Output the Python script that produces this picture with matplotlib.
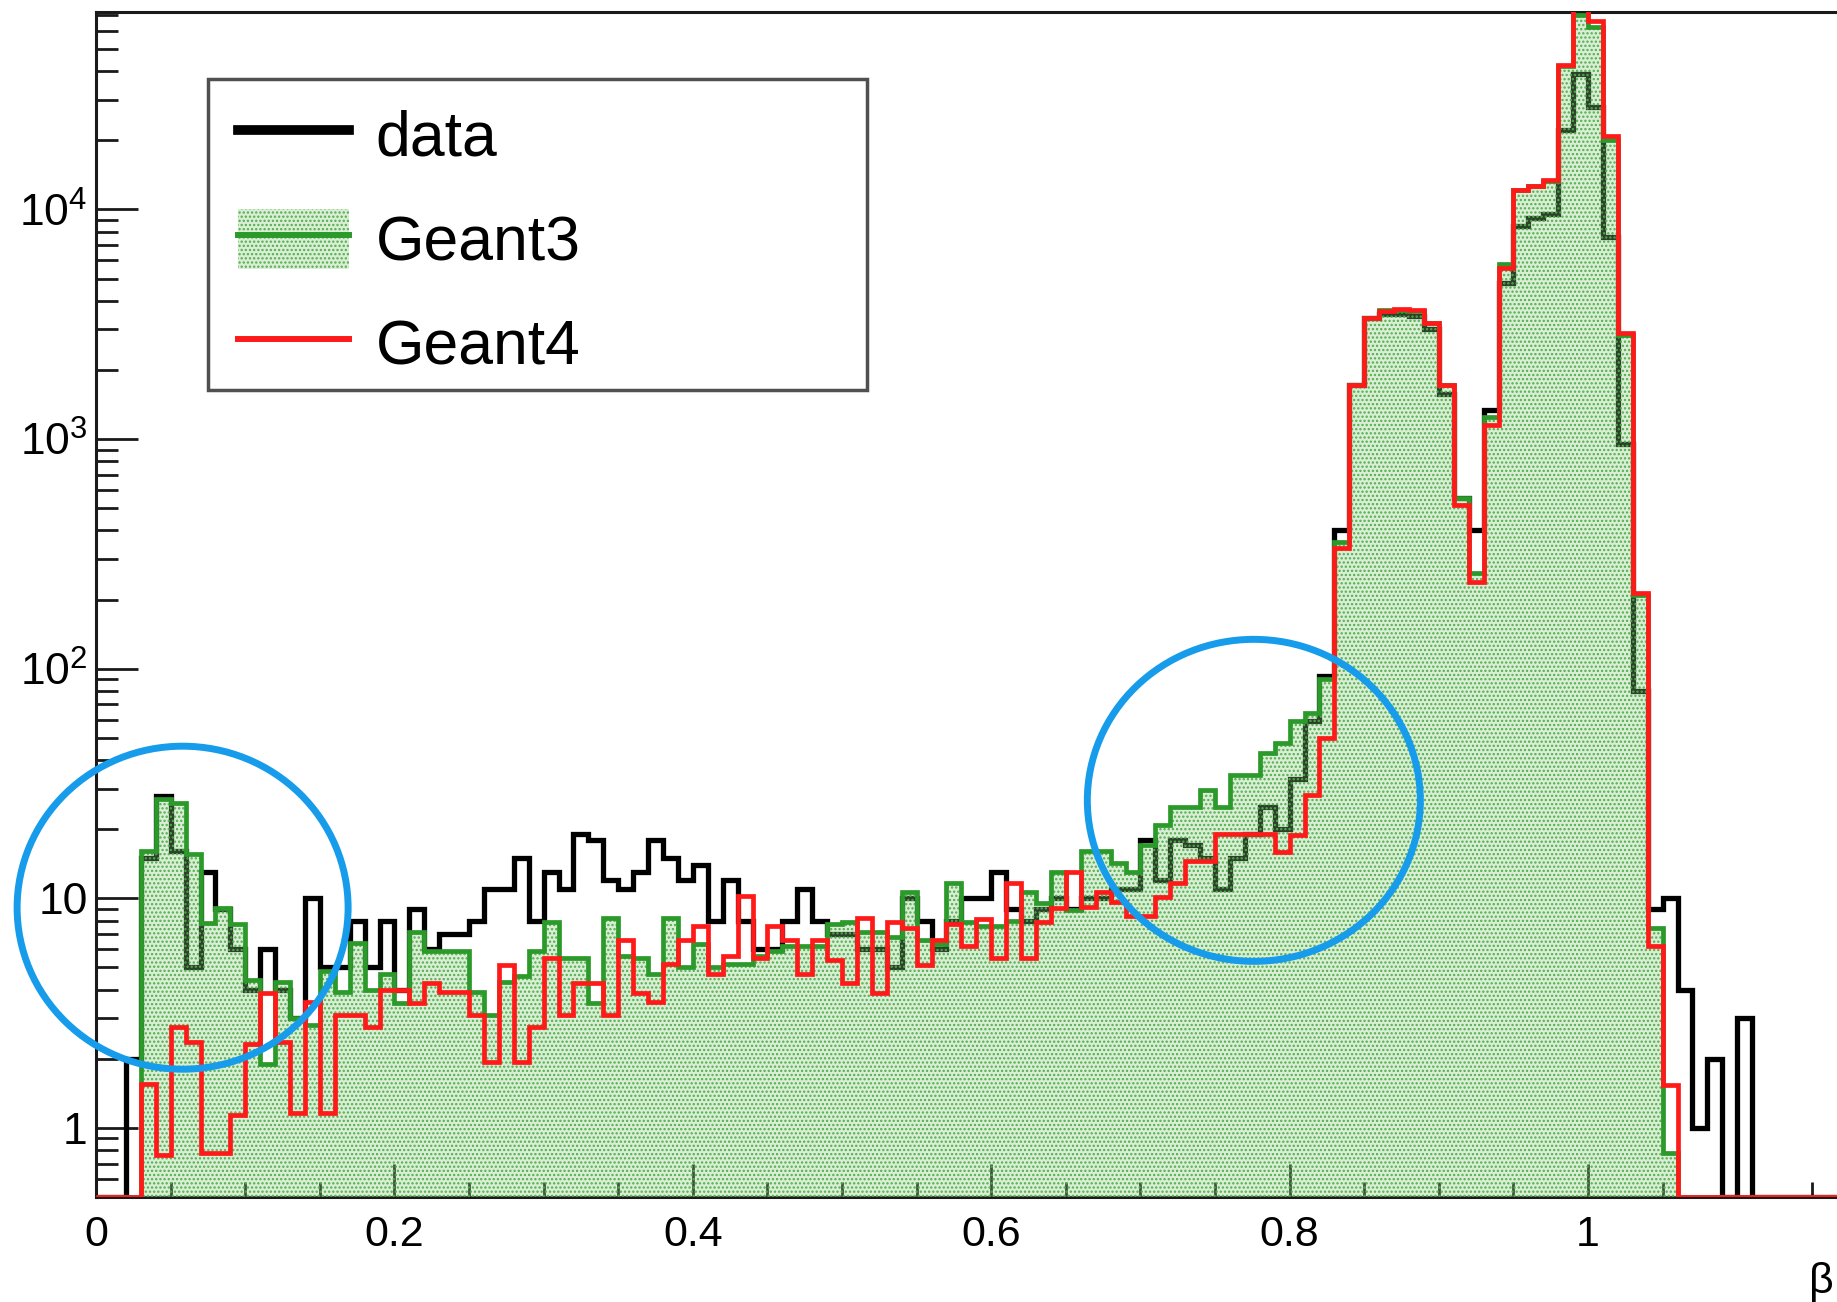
import numpy as np
import matplotlib.pyplot as plt
import matplotlib.transforms as mtransforms
from matplotlib.patches import Ellipse, Patch, Rectangle
from matplotlib.lines import Line2D
from matplotlib.legend_handler import HandlerTuple
from matplotlib.ticker import FixedLocator, FixedFormatter, LogLocator, NullFormatter, MultipleLocator, FuncFormatter

plt.rcParams['font.family'] = ['Liberation Sans', 'DejaVu Sans']
plt.rcParams['mathtext.fontset'] = 'custom'
plt.rcParams['mathtext.rm'] = 'Liberation Sans'
plt.rcParams['mathtext.it'] = 'Liberation Sans:italic'
plt.rcParams['hatch.linewidth'] = 1.1

# beta histograms, 0.01 wide bins from 0 to 1.2
edges = np.round(np.linspace(0.0, 1.2, 121), 3)

data = [
    0, 0, 2, 15, 28, 16, 5, 13, 9, 6,
    4, 6, 4, 3, 10, 5, 5, 8, 5, 8,
    4, 9, 6, 7, 7, 8, 11, 11, 15, 8,
    13, 11, 19, 18, 12, 11, 13, 18, 15, 12,
    14, 8, 12, 8, 6, 6, 8, 11, 8, 7,
    7, 6, 6, 5, 10, 8, 6, 8, 10, 10,
    13, 9, 8, 9, 10, 9, 10, 10, 11, 11,
    18, 12, 18, 17, 15, 11, 15, 19, 25, 20,
    33, 59, 93, 400, 1720, 3380, 3500, 3500, 3450, 3000,
    1570, 555, 400, 1340, 4770, 8480, 9170, 9520, 22200, 38700,
    27900, 7550, 950, 80, 9, 10, 4, 1, 2, 0,
    3, 0, 0, 0, 0, 0, 0, 0, 0, 0,
]

geant3 = [
    0, 0, 0, 16, 27, 26, 15.6, 7.8, 9.1, 7.7,
    4.4, 1.9, 4.3, 3.0, 2.8, 4.8, 3.9, 6.4, 4.0, 4.7,
    3.5, 7.1, 5.9, 5.9, 5.9, 3.9, 3.1, 4.3, 4.6, 5.9,
    7.9, 5.5, 5.5, 3.5, 8.2, 5.6, 5.5, 4.7, 8.2, 5.0,
    6.3, 5.0, 5.2, 5.2, 5.6, 5.9, 6.2, 6.2, 6.2, 7.7,
    7.9, 7.1, 7.1, 6.8, 10.6, 6.6, 6.3, 11.7, 7.9, 7.6,
    7.6, 8.0, 10.6, 9.5, 13.0, 8.9, 16.1, 16.1, 14.3, 13.0,
    17.0, 20.8, 25.0, 25.0, 29.6, 25.0, 34.5, 34.5, 42.9, 47.5,
    59, 64, 90, 357, 1720, 3380, 3650, 3650, 3600, 3190,
    1720, 555, 262, 1245, 5780, 12100, 12600, 13300, 42000, 70000,
    62000, 20000, 2850, 210, 7.4, 0.78, 0, 0, 0, 0,
    0, 0, 0, 0, 0, 0, 0, 0, 0, 0,
]

geant4 = [
    0, 0, 0, 1.55, 0.76, 2.75, 2.36, 0.78, 0.78, 1.14,
    2.32, 3.85, 2.36, 1.16, 3.54, 1.16, 3.1, 3.1, 2.75, 4.0,
    4.0, 3.5, 4.26, 3.9, 3.9, 3.1, 1.93, 5.1, 1.93, 2.75,
    5.5, 3.1, 4.26, 4.26, 3.1, 6.6, 3.85, 3.54, 5.2, 6.6,
    7.6, 4.7, 5.6, 10.2, 5.5, 7.6, 6.6, 4.7, 6.6, 5.4,
    4.26, 8.2, 3.85, 7.9, 7.4, 5.1, 6.6, 7.7, 6.2, 8.1,
    5.5, 11.7, 5.5, 7.9, 9.1, 13.0, 9.2, 10.6, 9.6, 8.4,
    8.4, 10.1, 11.7, 14.6, 14.6, 19.1, 19.1, 19.1, 19.1, 15.9,
    18.8, 28.2, 50, 336, 1722, 3376, 3600, 3700, 3650, 3187,
    1722, 514, 238, 1151, 5560, 12200, 12700, 13450, 42600, 80000,
    66200, 20900, 2890, 213, 6.2, 1.54, 0, 0, 0, 0,
    0, 0, 0, 0, 0, 0, 0, 0, 0, 0,
]

y_lo, y_hi = 0.5, 7.2e4

green = '#2b9a2b'
green_dots = '#4fae4a'
green_fill = (0.55, 0.80, 0.50, 0.32)
red = '#ff1a1a'
blue = '#169ceb'

fig = plt.figure(figsize=(18.37, 13.02), dpi=100)
# frame runs past the right edge of the canvas
ax = fig.add_axes([0.0523, 0.0806, 0.9746, 0.9098])
ax.set_yscale('log')
ax.set_xlim(0, 1.2)
ax.set_ylim(y_lo, y_hi)

# empty bins sit on the bottom of the frame
h_data = np.maximum(data, y_lo)
h_g3 = np.maximum(geant3, y_lo)
h_g4 = np.maximum(geant4, y_lo)

ax.stairs(h_data, edges, baseline=None, color='black', lw=3.8, joinstyle='miter', zorder=3)
ax.stairs(h_g3, edges, baseline=y_lo, fill=True, facecolor=green_fill,
          edgecolor=green_dots, hatch='....', lw=0, zorder=4)
ax.stairs(h_g3, edges, baseline=None, color=green, lw=3.4, joinstyle='miter', zorder=5)
ax.stairs(h_g4, edges, baseline=None, color=red, lw=3.4, joinstyle='miter', zorder=6)

# axes styling
for side in ['left', 'bottom', 'top', 'right']:
    ax.spines[side].set_linewidth(2.2)
    ax.spines[side].set_color('#1a1a1a')

ax.xaxis.set_major_locator(MultipleLocator(0.2))
ax.xaxis.set_minor_locator(MultipleLocator(0.05))
ax.xaxis.set_major_formatter(FuncFormatter(lambda v, p: f'{v:g}' if v < 1.1 else ''))
ax.yaxis.set_major_locator(FixedLocator([1, 10, 100, 1e3, 1e4]))
ax.yaxis.set_major_formatter(FixedFormatter(['1', '10', r'$10^{2}$', r'$10^{3}$', r'$10^{4}$']))
ax.yaxis.set_minor_locator(LogLocator(base=10, subs=np.arange(2, 10), numticks=20))
ax.yaxis.set_minor_formatter(NullFormatter())

ax.tick_params(axis='x', which='major', direction='in', length=24, width=2, pad=13,
               labelsize=31, colors='#1a1a1a')
ax.tick_params(axis='x', which='minor', direction='in', length=11, width=2, colors='#1a1a1a')
ax.tick_params(axis='y', which='major', direction='in', length=30, width=2, pad=6,
               labelsize=32, colors='#1a1a1a')
ax.tick_params(axis='y', which='minor', direction='in', length=16, width=2, colors='#1a1a1a')
for lab in ax.get_xticklabels() + ax.get_yticklabels():
    lab.set_color('black')

# x title at the right end of the axis
fig.text(0.985, 0.0, 'β', fontsize=31, ha='left', va='bottom')

# legend
handles = [
    Line2D([], [], color='black', lw=7),
    (Patch(facecolor=green_fill, edgecolor=green_dots, hatch='....', lw=0),
     Line2D([], [], color=green, lw=4.3)),
    Line2D([], [], color=red, lw=4.3),
]
leg = ax.legend(handles, ['data', 'Geant3', 'Geant4'],
                handler_map={tuple: HandlerTuple(ndivide=1, pad=0)},
                loc='upper left', bbox_to_anchor=(0.1293, 0.9198),
                bbox_transform=fig.transFigure, frameon=False, borderpad=0,
                borderaxespad=0, fontsize=45, handlelength=1.78, handleheight=1.09,
                handletextpad=0.43, labelspacing=0.65)
leg.set_zorder(10)
fig.add_artist(Rectangle((0.1135, 0.7005), 0.3585, 0.2392, transform=fig.transFigure,
                         fill=False, edgecolor='#505050', lw=2.5, zorder=9))

# hand-drawn style rings around the two regions of interest
for (cx, cy), (w, h) in [((0.058, 9.1), (3.31, 3.23)), ((0.776, 26.7), (3.33, 3.22))]:
    trans = fig.dpi_scale_trans + mtransforms.ScaledTranslation(cx, cy, ax.transData)
    ring = Ellipse((0, 0), w, h, transform=trans, fill=False, edgecolor=blue,
                   lw=5, zorder=8, clip_on=False)
    ax.add_artist(ring)

fig.savefig('out.png', dpi=100)
